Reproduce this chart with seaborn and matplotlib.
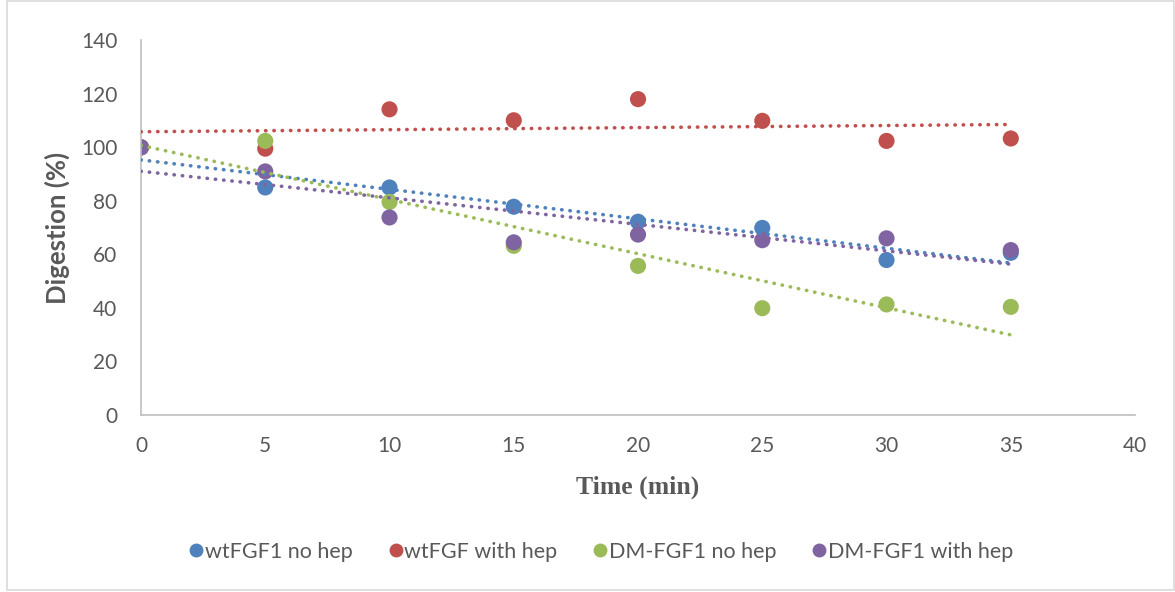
import pandas as pd
import numpy as np
import matplotlib.pyplot as plt
import seaborn as sns
from matplotlib.patches import Rectangle

# data
time_min = [0, 5, 10, 15, 20, 25, 30, 35]
wt_no_hep = [100, 85.0, 85.0, 77.8, 72.2, 69.9, 57.9, 60.6]
wt_with_hep = [100, 99.5, 114.2, 110.1, 118.0, 109.9, 102.4, 103.3]
dm_no_hep = [100, 102.4, 79.6, 63.2, 55.7, 39.9, 41.3, 40.4]
dm_with_hep = [100, 91.0, 73.8, 64.5, 67.4, 65.3, 66.0, 61.6]

series_names = ['wtFGF1 no hep', 'wtFGF with hep', 'DM-FGF1 no hep', 'DM-FGF1 with hep']
colors = ['#4F81BD', '#C0504D', '#9BBB59', '#8064A2']

df = pd.DataFrame({
    'Time': time_min * 4,
    'Digestion': wt_no_hep + wt_with_hep + dm_no_hep + dm_with_hep,
    'Series': np.repeat(series_names, len(time_min)),
})

sns.set_style('white')
plt.rcParams['font.family'] = ['Lato', 'DejaVu Sans']

fig = plt.figure(figsize=(11.75, 5.92), dpi=100)
ax = fig.add_axes([0.12, 0.299, 0.846, 0.633])

# points
sns.scatterplot(data=df, x='Time', y='Digestion', hue='Series', hue_order=series_names,
                palette=colors, s=135, linewidth=0, ax=ax, legend=False, zorder=2)

# linear trend lines
for name, c in zip(series_names, colors):
    sub = df[df.Series == name]
    sns.regplot(data=sub, x='Time', y='Digestion', scatter=False, ci=None, truncate=True, ax=ax,
                line_kws={'color': c, 'linewidth': 2.6, 'linestyle': (0, (0.1, 2.2)),
                          'dash_capstyle': 'round', 'zorder': 3})

ax.set_xlim(0, 40)
ax.set_ylim(0, 140)
ax.set_xticks(range(0, 41, 5))
ax.set_yticks(range(0, 141, 20))
ax.tick_params(axis='both', length=0, labelsize=15, colors='#595959')
ax.tick_params(axis='y', pad=17)
ax.tick_params(axis='x', pad=15)
for s in ['top', 'right']:
    ax.spines[s].set_visible(False)
for s in ['left', 'bottom']:
    ax.spines[s].set_color('#BFBFBF')
    ax.spines[s].set_linewidth(1.2)

ax.set_xlabel('Time (min)', fontsize=18.5, fontweight='bold', color='#595959',
              family=['Liberation Serif'], labelpad=14)
ax.set_ylabel('Digestion (%)', fontsize=18.5, fontweight='bold', color='#595959', labelpad=8)

# legend
handles = [plt.Line2D([], [], marker='o', linestyle='none', markersize=10,
                      markerfacecolor=c, markeredgewidth=0) for c in colors]
fig.legend(handles, series_names, loc='center', bbox_to_anchor=(0.511, 0.068), ncol=4,
           frameon=False, fontsize=15.5, handlelength=0.8, handletextpad=0.0,
           columnspacing=1.6, labelcolor='#595959')

# chart border
fig.patches.append(Rectangle((0.006, 0.003), 0.993, 0.995, transform=fig.transFigure,
                             fill=False, edgecolor='#D9D9D9', linewidth=1.2))

fig.savefig('out.png', dpi=100)
